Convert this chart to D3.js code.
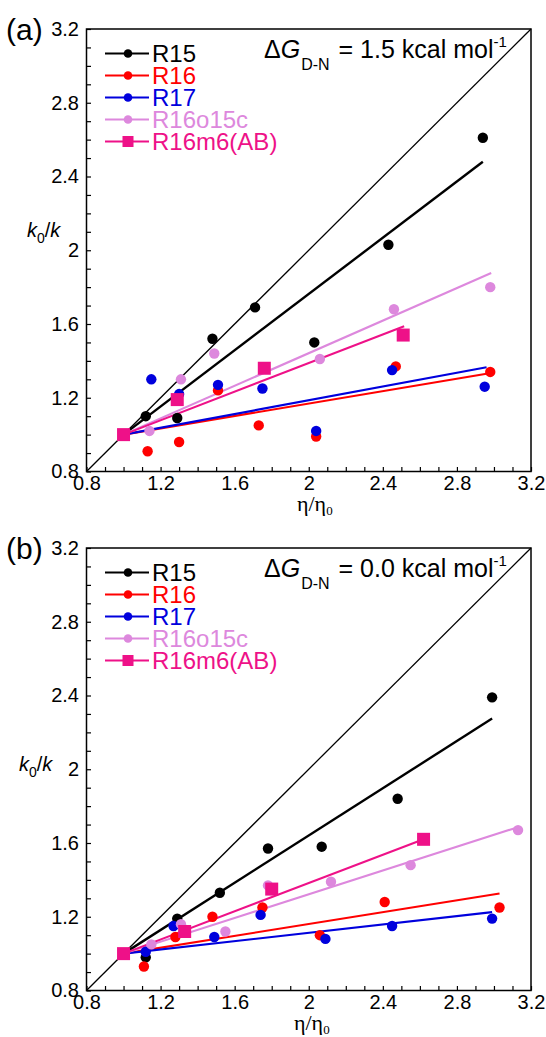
<!DOCTYPE html>
<html>
<head>
<meta charset="utf-8">
<script src="https://cdn.jsdelivr.net/npm/d3@7"></script>
<style>
  body { margin: 0; background: #fff; }
  svg { display: block; font-family: "Liberation Sans", Arial, Helvetica, sans-serif; }
  .tick text { font-family: "Liberation Sans Narrow", "Liberation Sans", Arial, sans-serif; }
</style>
</head>
<body>
<div id="chart"></div>
<script>
// series names and colours
var seriesNames = ["R15", "R16", "R17", "R16o15c", "R16m6(AB)"];
var seriesColors = ["#000000", "#ff0000", "#0000dd", "#dd88dd", "#ee1188"];
var seriesShapes = ["circle", "circle", "circle", "circle", "square"];

// axis ticks
var tickValues = d3.range(8, 33).map(function (d) { return d / 10; });
var domain = [0.8, 3.2];

// panel (a): dG = 1.5 kcal/mol, points [eta/eta0, k0/k]
var aR15 = [[1.0, 1.0], [1.12, 1.10], [1.29, 1.09], [1.48, 1.52], [1.71, 1.69], [2.03, 1.50], [2.43, 2.03], [2.94, 2.61]];
var aR16 = [[1.0, 1.0], [1.13, 0.91], [1.30, 0.96], [1.51, 1.24], [1.73, 1.05], [2.04, 0.99], [2.47, 1.37], [2.98, 1.34]];
var aR17 = [[1.0, 1.0], [1.15, 1.30], [1.30, 1.22], [1.51, 1.27], [1.75, 1.25], [2.04, 1.02], [2.45, 1.35], [2.95, 1.26]];
var aR16o15c = [[1.0, 1.0], [1.14, 1.02], [1.31, 1.30], [1.49, 1.44], [2.06, 1.41], [2.46, 1.68], [2.98, 1.80]];
var aR16m6 = [[1.0, 1.0], [1.29, 1.19], [1.76, 1.36], [2.51, 1.54]];
// fitted lines, start and end
var aFits = [
    [[1.0, 1.0], [2.94, 2.48]],
    [[1.0, 1.0], [2.96, 1.33]],
    [[1.0, 1.0], [2.96, 1.365]],
    [[1.0, 1.0], [2.985, 1.877]],
    [[1.0, 1.0], [2.515, 1.588]]
];

// panel (b): dG = 0.0 kcal/mol
var bR15 = [[1.0, 1.0], [1.12, 0.98], [1.29, 1.19], [1.52, 1.33], [1.78, 1.57], [2.07, 1.58], [2.48, 1.84], [2.99, 2.39]];
var bR16 = [[1.0, 1.0], [1.11, 0.93], [1.28, 1.09], [1.48, 1.20], [1.75, 1.25], [2.06, 1.10], [2.41, 1.28], [3.03, 1.25]];
var bR17 = [[1.0, 1.0], [1.12, 1.01], [1.27, 1.15], [1.49, 1.09], [1.74, 1.21], [2.09, 1.08], [2.45, 1.15], [2.99, 1.19]];
var bR16o15c = [[1.0, 1.0], [1.15, 1.05], [1.31, 1.16], [1.55, 1.12], [1.78, 1.37], [2.12, 1.39], [2.55, 1.48], [3.13, 1.67]];
var bR16m6 = [[1.0, 1.0], [1.33, 1.12], [1.80, 1.35], [2.62, 1.62]];
var bFits = [
    [[1.0, 1.0], [2.99, 2.275]],
    [[1.0, 1.0], [3.03, 1.326]],
    [[1.0, 1.0], [2.99, 1.225]],
    [[1.0, 1.0], [3.13, 1.686]],
    [[1.0, 1.0], [2.62, 1.62]]
];

var svg = d3.select("#chart").append("svg")
    .attr("width", 546)
    .attr("height", 1037);

function drawPanel(top, letter, dgValue, series, fits, yLabelX, yLabelY, xLabelX, xLabelY) {
    var vMargin = { mTop: 29, mLeft: 86.5, mWidth: 444.5, mHeight: 442.5 };
    var g = svg.append("g").attr("transform", "translate(" + vMargin.mLeft + "," + (top + vMargin.mTop) + ")");

    var x = d3.scaleLinear().domain(domain).range([0, vMargin.mWidth]);
    var y = d3.scaleLinear().domain(domain).range([vMargin.mHeight, 0]);

    var fmt = function (d) {
        return Math.round(d * 10) % 4 === 0 ? String(Math.round(d * 10) / 10) : "";
    };

    // bottom axis, ticks inward
    var xa = g.append("g")
        .attr("transform", "translate(0," + vMargin.mHeight + ")")
        .call(d3.axisBottom(x).tickValues(tickValues).tickSizeInner(-4.5).tickSizeOuter(0).tickPadding(4).tickFormat(fmt));
    xa.select(".domain").remove();
    xa.selectAll("text").attr("font-size", 20).attr("fill", "#000");
    xa.selectAll("line").attr("stroke-width", 1.2);

    // left axis
    var ya = g.append("g")
        .call(d3.axisLeft(y).tickValues(tickValues).tickSizeInner(-4.5).tickSizeOuter(0).tickPadding(7.5).tickFormat(fmt));
    ya.select(".domain").remove();
    ya.selectAll("text").attr("font-size", 20).attr("fill", "#000");
    ya.selectAll("line").attr("stroke-width", 1.2);

    // frame
    g.append("rect")
        .attr("width", vMargin.mWidth).attr("height", vMargin.mHeight)
        .attr("fill", "none").attr("stroke", "#000").attr("stroke-width", 1.5);

    // diagonal y = x
    g.append("line")
        .attr("x1", x(domain[0])).attr("y1", y(domain[0]))
        .attr("x2", x(domain[1])).attr("y2", y(domain[1]))
        .attr("stroke", "#000").attr("stroke-width", 1.3);

    // fitted lines
    fits.forEach(function (f, i) {
        g.append("line")
            .attr("x1", x(f[0][0])).attr("y1", y(f[0][1]))
            .attr("x2", x(f[1][0])).attr("y2", y(f[1][1]))
            .attr("stroke", seriesColors[i])
            .attr("stroke-width", i === 0 ? 2.4 : 2.1);
    });

    // points
    series.forEach(function (s, i) {
        if (seriesShapes[i] === "square") {
            g.selectAll(null).data(s).enter().append("rect")
                .attr("x", function (d) { return x(d[0]) - 6.5; })
                .attr("y", function (d) { return y(d[1]) - 6.5; })
                .attr("width", 13).attr("height", 13)
                .attr("fill", seriesColors[i]);
        } else {
            g.selectAll(null).data(s).enter().append("circle")
                .attr("cx", function (d) { return x(d[0]); })
                .attr("cy", function (d) { return y(d[1]); })
                .attr("r", 5.2)
                .attr("fill", seriesColors[i]);
        }
    });

    // legend
    var lg = g.append("g");
    seriesNames.forEach(function (name, i) {
        var ly = 24.5 + i * 22;
        lg.append("line")
            .attr("x1", 18.5).attr("x2", 62.5).attr("y1", ly).attr("y2", ly)
            .attr("stroke", seriesColors[i]).attr("stroke-width", 1.8);
        if (seriesShapes[i] === "square") {
            lg.append("rect").attr("x", 41.5 - 5.5).attr("y", ly - 5.5).attr("width", 11).attr("height", 11)
                .attr("fill", seriesColors[i]);
        } else {
            lg.append("circle").attr("cx", 41.5).attr("cy", ly).attr("r", 4.3).attr("fill", seriesColors[i]);
        }
        lg.append("text")
            .attr("x", 65.5).attr("y", ly + 8.5)
            .attr("font-size", 24)
            .attr("fill", seriesColors[i])
            .text(name);
    });

    // delta G annotation
    var dg = g.append("text").attr("x", 177.5).attr("y", 28.5).attr("font-size", 25).attr("fill", "#000");
    dg.append("tspan").text("\u0394");
    dg.append("tspan").attr("font-style", "italic").text("G");
    dg.append("tspan").attr("font-size", 16).attr("dy", 12).attr("dx", 1).text("D-N");
    dg.append("tspan").attr("dy", -12).attr("dx", 2).text(" = " + dgValue + " kcal mol");
    dg.append("tspan").attr("font-size", 15).attr("dy", -11).text("-1");

    // axis titles
    var yl = svg.append("text").attr("x", yLabelX).attr("y", top + yLabelY).attr("font-size", 20).attr("fill", "#000");
    yl.append("tspan").attr("font-style", "italic").text("k");
    yl.append("tspan").attr("font-size", 14).attr("dy", 6).text("0");
    yl.append("tspan").attr("dy", -6).text("/");
    yl.append("tspan").attr("font-style", "italic").text("k");

    var xl = svg.append("text").attr("x", xLabelX).attr("y", top + xLabelY).attr("font-size", 22)
        .attr("font-family", "'Liberation Serif', 'DejaVu Serif', serif").attr("fill", "#000");
    xl.append("tspan").text("\u03b7/\u03b7");
    xl.append("tspan").attr("font-size", 13).attr("dy", 4).text("0");

    // panel letter
    svg.append("text").attr("x", 6).attr("y", top + 40).attr("font-size", 30).attr("fill", "#000").text("(" + letter + ")");
}

drawPanel(0, "a", "1.5", [aR15, aR16, aR17, aR16o15c, aR16m6], aFits, 27, 236.5, 297, 511);
drawPanel(519, "b", "0.0", [bR15, bR16, bR17, bR16o15c, bR16m6], bFits, 19, 252, 294, 510.5);
</script>
</body>
</html>
